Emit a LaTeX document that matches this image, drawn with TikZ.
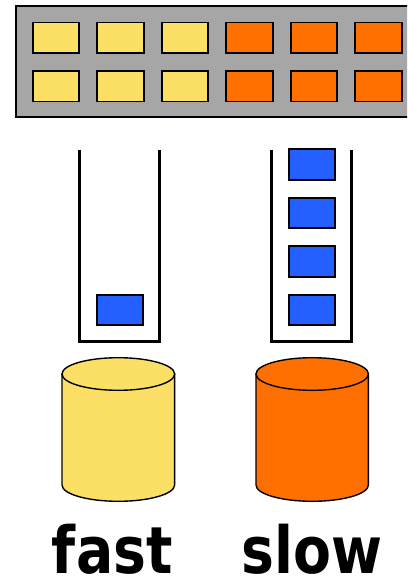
\documentclass[tikz,border=0pt]{standalone}
\usepackage{fontspec}
\newfontfamily\labelfont{DejaVu Sans}
\usepackage{tikz}
\usetikzlibrary{positioning}
\usepackage{xcolor}

\definecolor{cellyellow}{RGB}{252,224,102}
\definecolor{cellorange}{RGB}{255,112,0}
\definecolor{cellblue}{RGB}{36,96,255}
\definecolor{panelgray}{RGB}{166,166,166}

\begin{document}
\begin{tikzpicture}[
    x=1pt, y=-1pt,
    cell/.style={rectangle, draw, line width=1.8pt, minimum width=46.5pt, minimum height=30.5pt, inner sep=0pt},
    tube/.style={line width=3.2pt},
    disk/.style={draw, line width=1.4pt},
    speed/.style={font=\labelfont\bfseries\fontsize{65}{65}\selectfont, xscale=0.85, anchor=base, inner sep=0pt}
]
\useasboundingbox (0,0) rectangle (407,577);
\clip (0,0) rectangle (407,577);

% cache panel
\draw[line width=2pt, fill=panelgray] (16,6) rectangle (412,117);
\node[cell, fill=cellyellow] (y1) at (56,37.7) {};
\node[cell, fill=cellyellow, right=16.2pt of y1] (y2) {};
\node[cell, fill=cellyellow, right=16.2pt of y2] (y3) {};
\node[cell, fill=cellorange, right=16.2pt of y3] (o1) {};
\node[cell, fill=cellorange, right=16.2pt of o1] (o2) {};
\node[cell, fill=cellorange, right=16.2pt of o2] (o3) {};
\node[cell, fill=cellyellow, below=16.2pt of y1] (y4) {};
\node[cell, fill=cellyellow, below=16.2pt of y2] (y5) {};
\node[cell, fill=cellyellow, below=16.2pt of y3] (y6) {};
\node[cell, fill=cellorange, below=16.2pt of o1] (o4) {};
\node[cell, fill=cellorange, below=16.2pt of o2] (o5) {};
\node[cell, fill=cellorange, below=16.2pt of o3] (o6) {};

% request queues
\draw[tube] (79.5,150) -- (79.5,341.5) -- (159.5,341.5) -- (159.5,150);
\draw[tube] (271.5,150) -- (271.5,341.5) -- (351.5,341.5) -- (351.5,150);
\node[cell, fill=cellblue] (qf) at (120,310) {};
\node[cell, fill=cellblue] (qs1) at (312,310) {};
\node[cell, fill=cellblue, above=16.2pt of qs1] (qs2) {};
\node[cell, fill=cellblue, above=16.2pt of qs2] (qs3) {};
\node[cell, fill=cellblue, above=16.2pt of qs3] (qs4) {};

% disks
\draw[disk, fill=cellyellow] (62,374) -- (62,485) arc[start angle=180, end angle=360, x radius=56.3, y radius=-16.3] -- (174.6,374) -- cycle;
\draw[disk, fill=cellyellow] (118.3,374) ellipse[x radius=56.3, y radius=16.3];
\draw[disk, fill=cellorange] (256,374) -- (256,485) arc[start angle=180, end angle=360, x radius=56.2, y radius=-16.3] -- (368.4,374) -- cycle;
\draw[disk, fill=cellorange] (312.2,374) ellipse[x radius=56.2, y radius=16.3];

\node[speed] (fast) at (112.3,573.5) {fast};
\node[speed] (slow) at (312.3,573.5) {slow};
\end{tikzpicture}
\end{document}
